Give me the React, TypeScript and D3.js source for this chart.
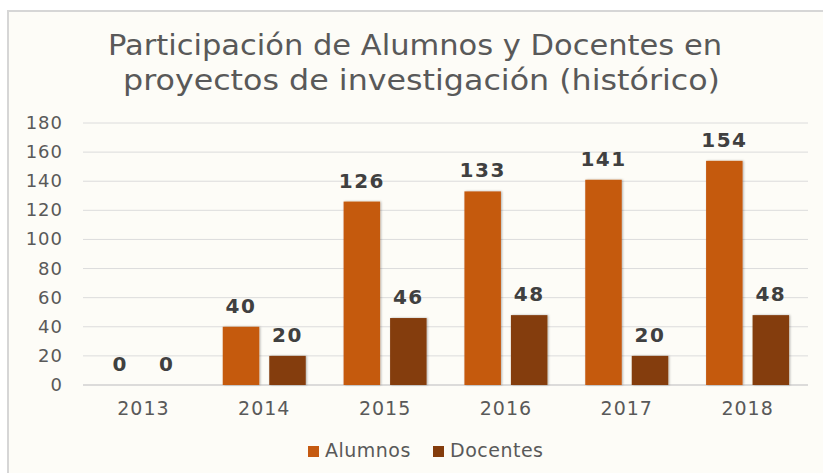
import { useEffect, useRef } from "react"
import * as d3 from "d3"

// chart data
const years = ["2013", "2014", "2015", "2016", "2017", "2018"]
const alumnos = [0, 40, 126, 133, 141, 154]
const docentes = [0, 20, 46, 48, 20, 48]
const seriesNames = ["Alumnos", "Docentes"]
const seriesColors = ["#C55A11", "#843C0C"]
const yTicks = [0, 20, 40, 60, 80, 100, 120, 140, 160, 180]
const titleLines = [
  "Participación de Alumnos y Docentes en",
  "proyectos de investigación (histórico)",
]

const W = 823
const H = 473
const FONT = "'DejaVu Sans', Verdana, sans-serif"

export default function App() {
  const svgRef = useRef<SVGSVGElement>(null)

  useEffect(() => {
    if (!svgRef.current) return
    const svg = d3.select(svgRef.current)
    svg.selectAll("*").remove()

    const plot = { left: 83, right: 808, top: 123, bottom: 385 }

    // shadow for the bars
    const defs = svg.append("defs")
    const f = defs.append("filter").attr("id", "shadow")
      .attr("x", "-20%").attr("y", "-20%").attr("width", "140%").attr("height", "140%")
    f.append("feDropShadow").attr("dx", 1).attr("dy", 0).attr("stdDeviation", 1.2)
      .attr("flood-color", "#000").attr("flood-opacity", 0.3)

    // chart area background + border (top and left only visible)
    svg.append("rect").attr("x", 0).attr("y", 0).attr("width", W).attr("height", H).attr("fill", "#fff")
    svg.append("rect").attr("x", 7).attr("y", 10).attr("width", W - 7).attr("height", H - 10)
      .attr("fill", "#FDFCF7")
    svg.append("path").attr("d", `M8,${H}V11H${W}`).attr("fill", "none")
      .attr("stroke", "#D6D6D6").attr("stroke-width", 2)

    // title
    svg.selectAll("text.title")
      .data(titleLines)
      .join("text")
      .attr("class", "title")
      .attr("x", (d, i) => (i === 0 ? 108 : 123))
      .attr("y", (d, i) => 55 + i * 35)
      .attr("textLength", (d, i) => (i === 0 ? 614 : 597))
      .attr("lengthAdjust", "spacingAndGlyphs")
      .attr("font-family", FONT)
      .attr("font-size", 28)
      .attr("fill", "#595959")
      .text(d => d)

    const x0 = d3.scaleBand<string>().domain(years).range([plot.left, plot.right]).padding(0)
    const groupW = 83
    const x1 = d3.scaleBand<string>().domain(seriesNames).range([0, groupW]).paddingInner(0.215).paddingOuter(0)
    const y = d3.scaleLinear().domain([0, 180]).range([plot.bottom, plot.top])

    // gridlines
    svg.append("g")
      .selectAll("line")
      .data(yTicks)
      .join("line")
      .attr("x1", plot.left)
      .attr("x2", plot.right)
      .attr("y1", d => y(d))
      .attr("y2", d => y(d))
      .attr("stroke", d => (d === 0 ? "#D0D0D0" : "#DCDCDC"))
      .attr("stroke-width", d => (d === 0 ? 1.5 : 1))

    // y tick labels
    svg.append("g")
      .selectAll("text")
      .data(yTicks)
      .join("text")
      .attr("x", 63)
      .attr("y", d => y(d) + 6)
      .attr("text-anchor", "end")
      .attr("font-family", FONT)
      .attr("font-size", 18)
      .attr("letter-spacing", 1)
      .attr("fill", "#595959")
      .text(d => d)

    // x labels
    svg.append("g")
      .selectAll("text")
      .data(years)
      .join("text")
      .attr("x", d => (x0(d) || 0) + x0.bandwidth() / 2)
      .attr("y", 415)
      .attr("text-anchor", "middle")
      .attr("font-family", FONT)
      .attr("font-size", 19)
      .attr("letter-spacing", 1)
      .attr("fill", "#595959")
      .text(d => d)

    const rows = years.map((yr, i) => ({ year: yr, values: [alumnos[i], docentes[i]] }))
    const groups = svg.append("g")
      .selectAll("g")
      .data(rows)
      .join("g")
      .attr("transform", d => `translate(${(x0(d.year) || 0) + (x0.bandwidth() - groupW) / 2},0)`)

    const cells = groups.selectAll("g")
      .data(d => d.values.map((v, k) => ({ name: seriesNames[k], value: v, k })))
      .join("g")

    cells.filter(d => d.value > 0)
      .append("rect")
      .attr("x", d => x1(d.name) || 0)
      .attr("width", x1.bandwidth())
      .attr("y", d => y(d.value))
      .attr("height", d => y(0) - y(d.value))
      .attr("fill", d => seriesColors[d.k])
      .attr("filter", "url(#shadow)")

    cells.append("text")
      .attr("x", d => (x1(d.name) || 0) + x1.bandwidth() / 2)
      .attr("y", d => y(d.value) - 14)
      .attr("text-anchor", "middle")
      .attr("font-family", FONT)
      .attr("font-weight", "bold")
      .attr("font-size", 20)
      .attr("letter-spacing", 1.5)
      .attr("fill", "#404040")
      .text(d => d.value)

    // legend
    const legendX = [308, 433]
    const legend = svg.append("g")
      .selectAll("g")
      .data(seriesNames)
      .join("g")
      .attr("transform", (d, i) => `translate(${legendX[i]},446)`)
    legend.append("rect")
      .attr("width", 11)
      .attr("height", 11)
      .attr("fill", (d, i) => seriesColors[i])
    legend.append("text")
      .attr("x", 17)
      .attr("y", 11)
      .attr("font-family", FONT)
      .attr("font-size", 19)
      .attr("letter-spacing", 0.5)
      .attr("fill", "#595959")
      .text(d => d)
  }, [])

  return (
    <div>
      <style>{`body{margin:0}`}</style>
      <svg ref={svgRef} width={W} height={H} style={{ display: "block" }} />
    </div>
  )
}
